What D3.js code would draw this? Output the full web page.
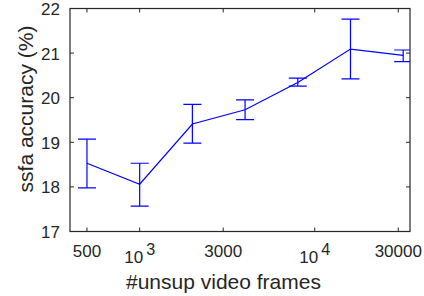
<!DOCTYPE html>
<html>
<head>
<meta charset="utf-8">
<script src="https://cdn.jsdelivr.net/npm/d3@7"></script>
<style>
  body { margin: 0; background: #fff; }
  text { font-family: "Liberation Sans", Arial, sans-serif; fill: #262626; }
</style>
</head>
<body>
<svg id="chart" width="424" height="296"></svg>
<script>
// data
const frames = [500, 1000, 2000, 4000, 8000, 16000, 32000];
const accuracy = [18.53, 18.06, 19.41, 19.73, 20.34, 21.09, 20.95];
const errLow = [17.98, 17.57, 18.98, 19.51, 20.26, 20.42, 20.81];
const errHigh = [19.07, 18.53, 19.85, 19.95, 20.44, 21.76, 21.07];

const xTicks = [500, 1000, 3000, 10000, 30000];
const xTickLabels = [["500"], ["10", "3"], ["3000"], ["10", "4"], ["30000"]];
const yTicks = [17, 18, 19, 20, 21, 22];

const svg = d3.select("#chart");
svg.append("rect").attr("width", 424).attr("height", 296).attr("fill", "#fff");

const pLeft = 70, pRight = 410, pTop = 8.5, pBottom = 231.5;
const x = d3.scaleLog().domain([400, 35000]).range([pLeft, pRight]);
const y = d3.scaleLinear().domain([17, 22]).range([pBottom, pTop]);

const axisColor = "#262626";
const tickLen = 4;
const fs = 17;

svg.append("clipPath").attr("id", "plotClip")
  .append("rect").attr("x", pLeft).attr("y", pTop)
  .attr("width", pRight - pLeft).attr("height", pBottom - pTop);

// ticks on all four sides, pointing inward
const g = svg.append("g");
xTicks.forEach(t => {
  g.append("line").attr("x1", x(t)).attr("x2", x(t)).attr("y1", pBottom).attr("y2", pBottom - tickLen)
    .attr("stroke", axisColor);
  g.append("line").attr("x1", x(t)).attr("x2", x(t)).attr("y1", pTop).attr("y2", pTop + tickLen)
    .attr("stroke", axisColor);
});
yTicks.forEach(t => {
  g.append("line").attr("x1", pLeft).attr("x2", pLeft + tickLen).attr("y1", y(t)).attr("y2", y(t))
    .attr("stroke", axisColor);
  g.append("line").attr("x1", pRight).attr("x2", pRight - tickLen).attr("y1", y(t)).attr("y2", y(t))
    .attr("stroke", axisColor);
});

// frame
svg.append("rect")
  .attr("x", pLeft).attr("y", pTop)
  .attr("width", pRight - pLeft).attr("height", pBottom - pTop)
  .attr("fill", "none").attr("stroke", axisColor).attr("stroke-width", 1.2);

// y tick labels
yTicks.forEach(t => {
  svg.append("text")
    .attr("x", 60).attr("y", y(t) + 6.5)
    .attr("text-anchor", "end")
    .attr("font-size", fs)
    .text(t);
});

// x tick labels (powers of ten get a superscript)
xTicks.forEach((t, i) => {
  const lab = xTickLabels[i];
  const tx = svg.append("text")
    .attr("x", x(t))
    .attr("text-anchor", "middle")
    .attr("font-size", fs);
  if (lab.length === 1) {
    tx.attr("y", 257).text(lab[0]);
  } else {
    tx.attr("y", 263);
    tx.append("tspan").text(lab[0]);
    tx.append("tspan").attr("dx", 3).attr("dy", -8).attr("font-size", fs * 0.95).text(lab[1]);
  }
});

// axis labels
svg.append("text")
  .attr("x", 223.5).attr("y", 289)
  .attr("text-anchor", "middle")
  .attr("font-size", 21)
  .text("#unsup video frames");

svg.append("text")
  .attr("transform", "translate(33,109) rotate(-90)")
  .attr("text-anchor", "middle")
  .attr("font-size", 21)
  .text("ssfa accuracy (%)");

// series
const pts = frames.map((f, i) => ({ f, v: accuracy[i], lo: errLow[i], hi: errHigh[i] }));
const plot = svg.append("g").attr("clip-path", "url(#plotClip)");
const blue = "#0000ff";
const cap = 9;

plot.append("path")
  .datum(pts)
  .attr("fill", "none")
  .attr("stroke", blue)
  .attr("stroke-width", 1.2)
  .attr("d", d3.line().x(d => x(d.f)).y(d => y(d.v)));

const eb = plot.selectAll(".err").data(pts).enter().append("g").attr("class", "err");
eb.append("line")
  .attr("x1", d => x(d.f)).attr("x2", d => x(d.f))
  .attr("y1", d => y(d.lo)).attr("y2", d => y(d.hi))
  .attr("stroke", blue).attr("stroke-width", 1.2);
eb.append("line")
  .attr("x1", d => x(d.f) - cap).attr("x2", d => x(d.f) + cap)
  .attr("y1", d => y(d.hi)).attr("y2", d => y(d.hi))
  .attr("stroke", blue).attr("stroke-width", 1.2);
eb.append("line")
  .attr("x1", d => x(d.f) - cap).attr("x2", d => x(d.f) + cap)
  .attr("y1", d => y(d.lo)).attr("y2", d => y(d.lo))
  .attr("stroke", blue).attr("stroke-width", 1.2);
</script>
</body>
</html>
